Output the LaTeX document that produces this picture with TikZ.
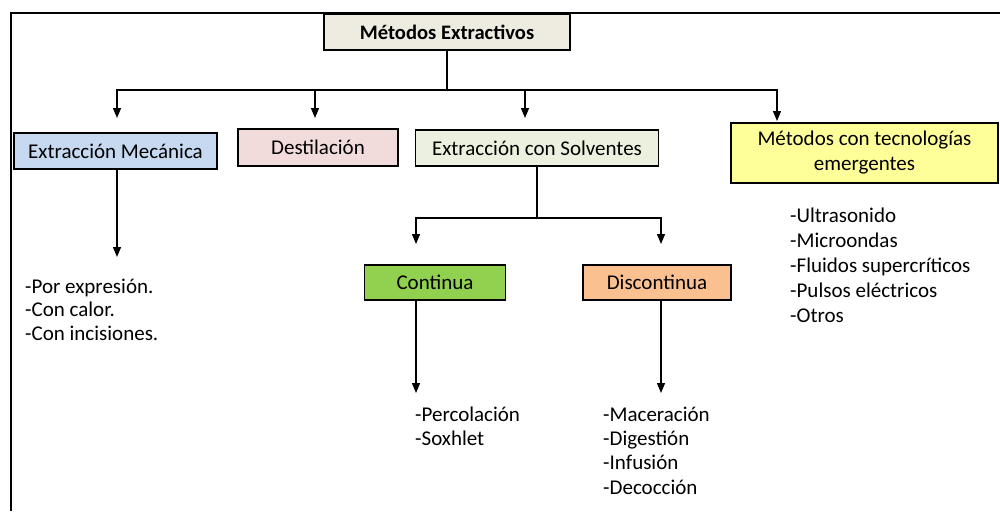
\documentclass[tikz,border=0pt]{standalone}
\usepackage{fontspec}
\setmainfont{Carlito}
\usetikzlibrary{arrows.meta}
\definecolor{cTop}{HTML}{EEECE1}
\definecolor{cMec}{HTML}{C6D9F1}
\definecolor{cDest}{HTML}{F2DCDB}
\definecolor{cSolv}{HTML}{EBF1DE}
\definecolor{cEmer}{HTML}{FFFF99}
\definecolor{cCont}{HTML}{92D050}
\definecolor{cDisc}{HTML}{FAC090}
\tikzset{
  every node/.style={font=\fontsize{21}{24}\selectfont, inner sep=0pt},
  boxnode/.style={draw=black, line width=1.4pt, align=center},
  listnode/.style={anchor=base west, align=left},
  conn/.style={line width=1.3pt},
  arr/.style={conn, -{Triangle[length=10pt,width=8pt]}},
  frame/.style={line width=2.2pt}
}
\begin{document}
\begin{tikzpicture}[x=1pt,y=-1pt]
\useasboundingbox (0,0) rectangle (1000,511);
% frame
\coordinate (fTL) at (11,13);
\coordinate (fTR) at (1000,13);
\coordinate (fBL) at (11,511);
\draw[frame] (fTR) -- (fTL) -- (fBL);
% boxes
\node[boxnode, fill=cTop, minimum width=246pt, minimum height=36pt, font=\fontsize{20.6}{24}\selectfont\bfseries] (top) at (447,32) {Métodos Extractivos};
\node[boxnode, fill=cMec, minimum width=203pt, minimum height=36pt] (mec) at (115.5,151) {Extracción Mecánica};
\node[boxnode, fill=cDest, minimum width=160pt, minimum height=37pt] (dest) at (318,147.5) {Destilación};
\node[boxnode, fill=cSolv, minimum width=243pt, minimum height=36pt] (solv) at (537,148) {Extracción con Solventes};
\node[boxnode, fill=cEmer, minimum width=267pt, minimum height=60pt, font=\fontsize{21}{25}\selectfont] (emer) at (864.5,153) {Métodos con tecnologías\\emergentes};
\node[boxnode, fill=cCont, minimum width=141pt, minimum height=35pt] (cont) at (435,282.5) {Continua};
\node[boxnode, fill=cDisc, minimum width=148pt, minimum height=35pt] (disc) at (657,282.5) {Discontinua};
% coordinates
\coordinate (hub) at (447,90);
\coordinate (tMec) at (117,118);
\coordinate (tDest) at (315,118);
\coordinate (tSolv) at (525,118);
\coordinate (tEmer) at (777,121);
\coordinate (hub2) at (537,218);
\coordinate (tCont) at (416,244);
\coordinate (tDisc) at (661,244);
\coordinate (eMec) at (117,257);
\coordinate (eCont) at (416,393);
\coordinate (eDisc) at (661,393);
% connectors
\draw[conn] (top.south) -- (hub);
\draw[arr] (hub) -| (tMec);
\draw[arr] (hub) -| (tDest);
\draw[arr] (hub) -| (tSolv);
\draw[arr] (hub) -| (tEmer);
\draw[conn] (solv.south) -- (hub2);
\draw[arr] (hub2) -| (tCont);
\draw[arr] (hub2) -| (tDisc);
\draw[arr] (mec.south -| eMec) -- (eMec);
\draw[arr] (cont.south -| eCont) -- (eCont);
\draw[arr] (disc.south -| eDisc) -- (eDisc);
% lists (base anchor = baseline of last line)
\node[listnode, font=\fontsize{21}{23.5}\selectfont] (lMec) at (25,340) {-Por expresión.\\-Con calor.\\-Con incisiones.};
\node[listnode] (lCont) at (415,445) {-Percolación\\-Soxhlet};
\node[listnode, font=\fontsize{21}{24.2}\selectfont] (lDisc) at (603,494) {-Maceración\\-Digestión\\-Infusión\\-Decocción};
\node[listnode, font=\fontsize{21}{25}\selectfont] (lEmer) at (790,322) {-Ultrasonido\\-Microondas\\-Fluidos supercríticos\\-Pulsos eléctricos\\-Otros};
\end{tikzpicture}
\end{document}
